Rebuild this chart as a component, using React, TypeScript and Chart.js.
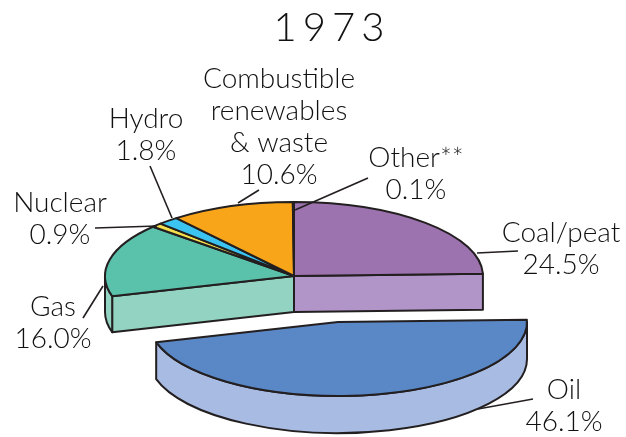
import React, { useEffect, useRef } from "react";
import { Chart, registerables } from "chart.js";

Chart.register(...registerables);

const titleText = "1973";
const categories = ["Coal/peat", "Oil", "Gas", "Nuclear", "Hydro", "Combustible renewables & waste", "Other**"];
const shares = [24.5, 46.1, 16.0, 0.9, 1.8, 10.6, 0.1];
const topColors = ["#9C72AF", "#5A87C5", "#5AC1AB", "#F4E04D", "#3BC4F2", "#F9A51A", "#9C72AF"];
const sideColors = ["#B295C8", "#A8BBE2", "#93D3C1", "#F4E04D", "#3BC4F2", "#F9A51A", "#B295C8"];
const labelLines = [["Coal/peat"], ["Oil"], ["Gas"], ["Nuclear"], ["Hydro"], ["Combustible", "renewables", "& waste"], ["Other**"]];

const INK = "#231F20";
const SQUASH = 74 / 189;
const DEPTH = 36;
const OIL_DEPTH = 37;
const MAIN_CENTER = { x: 294, y: 276 };
const OIL_CENTER = { x: 338, y: 322 };
const OIL_INDEX = 1;
const FONT = "Lato";

const labelLayout = [
  { x: 561, y: 242, leader: [477, 253, 518, 251] },
  { x: 564, y: 399, leader: [478, 409, 533, 399] },
  { x: 53, y: 316, leader: [103, 286, 83, 318] },
  { x: 60, y: 212, leader: [95, 228, 157, 226] },
  { x: 146, y: 128, leader: [150, 166, 172, 218] },
  { x: 279, y: 88, leader: [259, 190, 238, 203] },
  { x: 416, y: 167, leader: [368, 178, 295, 210] },
];

function centerOf(i: number) {
  return i === OIL_INDEX ? OIL_CENTER : MAIN_CENTER;
}

function drawSlices(chart: any) {
  const ctx: CanvasRenderingContext2D = chart.ctx;
  const arcs: any[] = chart.getDatasetMeta(0).data;
  ctx.save();
  ctx.lineWidth = 2;
  ctx.lineJoin = "round";
  ctx.strokeStyle = INK;

  const shape = (paint: () => void, fill: string) => {
    ctx.beginPath();
    paint();
    ctx.closePath();
    ctx.fillStyle = fill;
    ctx.fill();
    ctx.stroke();
  };

  const rim = (i: number) => {
    const a = arcs[i];
    const c = centerOf(i);
    const R = a.outerRadius;
    const d = i === OIL_INDEX ? OIL_DEPTH : DEPTH;
    const from = Math.max(a.startAngle, 0);
    const to = Math.min(a.endAngle, Math.PI);
    if (to <= from) return;
    shape(() => {
      ctx.ellipse(c.x, c.y, R, R * SQUASH, 0, from, to);
      ctx.ellipse(c.x, c.y + d, R, R * SQUASH, 0, to, from, true);
    }, sideColors[i]);
  };

  const wall = (i: number, angle: number) => {
    const a = arcs[i];
    const c = centerOf(i);
    const px = c.x + a.outerRadius * Math.cos(angle);
    const py = c.y + a.outerRadius * SQUASH * Math.sin(angle);
    shape(() => {
      ctx.moveTo(c.x, c.y);
      ctx.lineTo(px, py);
      ctx.lineTo(px, py + DEPTH);
      ctx.lineTo(c.x, c.y + DEPTH);
    }, sideColors[i]);
  };

  const top = (i: number) => {
    const a = arcs[i];
    const c = centerOf(i);
    ctx.save();
    ctx.translate(c.x, c.y);
    ctx.scale(1, SQUASH);
    ctx.translate(-a.x, -a.y);
    a.draw(ctx);
    ctx.restore();
    ctx.beginPath();
    ctx.moveTo(c.x, c.y);
    ctx.ellipse(c.x, c.y, a.outerRadius, a.outerRadius * SQUASH, 0, a.startAngle, a.endAngle);
    ctx.closePath();
    ctx.stroke();
  };

  const mainIdx = arcs.map((_, i) => i).filter((i) => i !== OIL_INDEX);
  wall(OIL_INDEX + 1, arcs[OIL_INDEX + 1].startAngle);
  wall(OIL_INDEX - 1, arcs[OIL_INDEX - 1].endAngle);
  mainIdx.forEach(rim);
  mainIdx.forEach(top);
  rim(OIL_INDEX);
  top(OIL_INDEX);
  ctx.restore();
}

const pie3d = {
  id: "pie3d",
  beforeDraw(chart: any) {
    (chart.ctx as any).letterSpacing = "6px";
  },
  beforeDatasetDraw(chart: any) {
    (chart.ctx as any).letterSpacing = "0px";
    drawSlices(chart);
    return false;
  },
};

const sliceLabels = {
  id: "sliceLabels",
  afterDraw(chart: any) {
    const ctx: CanvasRenderingContext2D = chart.ctx;
    ctx.save();
    ctx.font = `300 28px ${FONT}`;
    ctx.fillStyle = "#111";
    ctx.textAlign = "center";
    ctx.textBaseline = "alphabetic";
    ctx.strokeStyle = INK;
    ctx.lineWidth = 1.6;
    labelLayout.forEach((l, i) => {
      const lines = [...labelLines[i], `${shares[i].toFixed(1)}%`];
      lines.forEach((t, k) => ctx.fillText(t, l.x, l.y + k * 32));
      ctx.beginPath();
      ctx.moveTo(l.leader[0], l.leader[1]);
      ctx.lineTo(l.leader[2], l.leader[3]);
      ctx.stroke();
    });
    ctx.restore();
  },
};

export default function App() {
  const ref = useRef<HTMLCanvasElement>(null);
  useEffect(() => {
    const chart = new Chart(ref.current!, {
      type: "pie",
      data: {
        labels: categories,
        datasets: [{ data: shares, backgroundColor: topColors, borderWidth: 0, radius: 189 } as any],
      },
      options: {
        animation: false,
        responsive: false,
        layout: { padding: { left: 38 } },
        plugins: {
          legend: { display: false },
          tooltip: { enabled: false },
          title: {
            display: true,
            text: titleText,
            color: "#111",
            font: { family: FONT, size: 40, weight: "300" },
            padding: { top: 4, bottom: 4 },
          },
        },
      },
      plugins: [pie3d, sliceLabels],
    } as any);
    return () => chart.destroy();
  }, []);
  return (
    <div style={{ position: "absolute", left: 0, top: 0, background: "#fff" }}>
      <canvas ref={ref} width={626} height={437} style={{ display: "block" }} />
    </div>
  );
}
